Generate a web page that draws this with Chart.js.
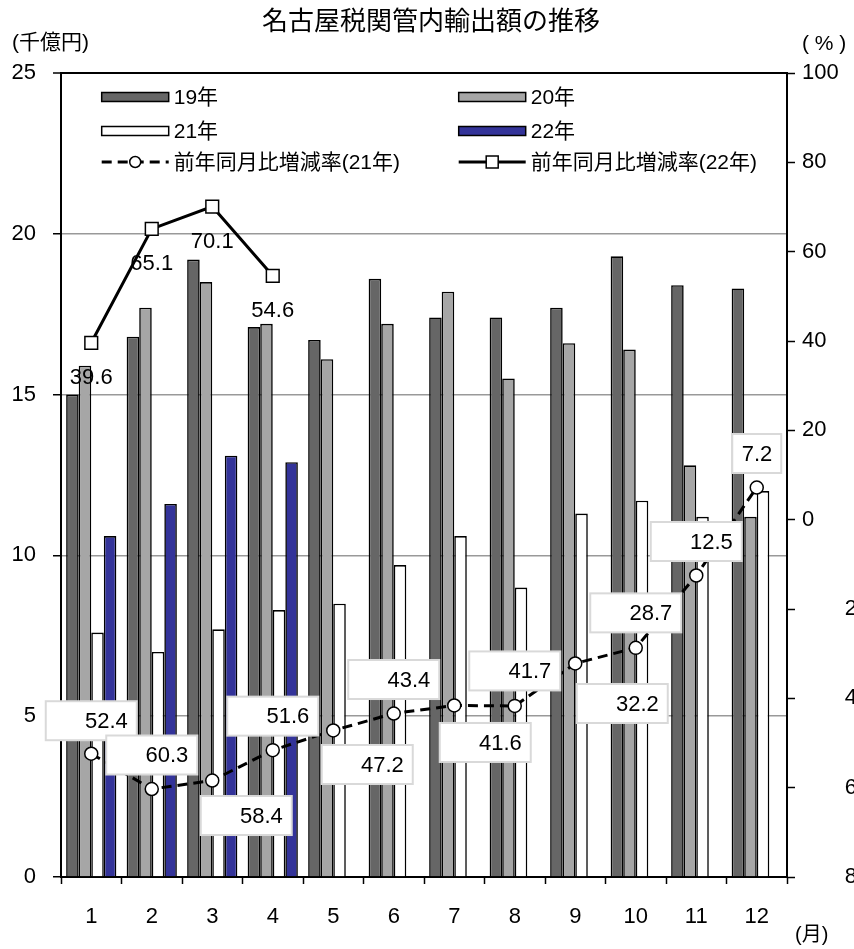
<!DOCTYPE html>
<html><head><meta charset="utf-8">
<script src="https://cdn.jsdelivr.net/npm/chart.js@4/dist/chart.umd.min.js"></script>
<style>html,body{margin:0;padding:0;background:#fff;overflow:hidden}canvas{display:block}</style>
</head><body>
<canvas id="c" width="854" height="949"></canvas>
<script>
// ---- data ----
const months = ['1','2','3','4','5','6','7','8','9','10','11','12'];
const exports19 = [15.0, 16.8, 19.2, 17.1, 16.7, 18.6, 17.4, 17.4, 17.7, 19.3, 18.4, 18.3];
const exports20 = [15.9, 17.7, 18.5, 17.2, 16.1, 17.2, 18.2, 15.5, 16.6, 16.4, 12.8, 11.2];
const exports21 = [7.6, 7.0, 7.7, 8.3, 8.5, 9.7, 10.6, 9.0, 11.3, 11.7, 11.2, 12.0];
const exports22 = [10.6, 11.6, 13.1, 12.9, null, null, null, null, null, null, null, null];
const rate21 = [-52.4, -60.3, -58.4, -51.6, -47.2, -43.4, -41.6, -41.7, -32.2, -28.7, -12.5, 7.2];
const rate22 = [39.6, 65.1, 70.1, 54.6, null, null, null, null, null, null, null, null];
const leftTicks = [0, 5, 10, 15, 20, 25];
const rightTicks = [-80, -60, -40, -20, 0, 20, 40, 60, 80, 100];

// ---- styling (label placement relative to points) ----
const box21Layout = [
  {dx:0, dy:-33, w:91}, {dx:0, dy:-34, w:91}, {dx:34, dy:35, w:91}, {dx:0, dy:-34, w:91},
  {dx:34, dy:34, w:91}, {dx:0, dy:-34, w:91}, {dx:31, dy:37, w:91}, {dx:0, dy:-35, w:91},
  {dx:47, dy:40, w:91}, {dx:0, dy:-35, w:91}, {dx:0, dy:-34, w:91}, {dx:0, dy:-34, w:49}
];
const FONT = "'Liberation Sans', 'Noto Sans CJK JP', sans-serif";
const CJK = "'Noto Sans CJK JP', sans-serif";

const dsRate21 = {type:'line', label:'前年同月比増減率(21年)', data:rate21, yAxisID:'y2',
  borderColor:'#000', borderWidth:3, borderDash:[10,6], tension:0,
  pointStyle:'circle', pointRadius:6.5, pointBackgroundColor:'#fff', pointBorderColor:'#000', pointBorderWidth:1.5, order:0};
const dsRate22 = {type:'line', label:'前年同月比増減率(22年)', data:rate22, yAxisID:'y2',
  borderColor:'#000', borderWidth:3, tension:0,
  pointStyle:'rect', pointRadius:9, pointBackgroundColor:'#fff', pointBorderColor:'#000', pointBorderWidth:1.5, order:0};
const mkBar = (label, data, color) => ({type:'bar', label, data, yAxisID:'y', backgroundColor:color,
  borderColor:'#000', borderWidth:1.6, order:1, categoryPercentage:0.83, barPercentage:1.0});
const dsBars = [mkBar('19年', exports19, '#666666'), mkBar('20年', exports20, '#a6a6a6'),
  mkBar('21年', exports21, '#ffffff'), mkBar('22年', exports22, '#333399')];

const datasets = [dsRate21, dsRate22, ...dsBars];
// legend layout order: [dataset index]
const legendOrder = [[2,3],[4,5],[0,1]];

const labelPlugin = {
  id:'valueLabels',
  afterDatasetsDraw(chart){
    const ctx = chart.ctx;
    ctx.save();
    ctx.font = '22px ' + FONT;
    ctx.textBaseline = 'middle';
    ctx.fillStyle = '#000';
    const m22 = chart.getDatasetMeta(1);
    m22.data.forEach((pt,i)=>{
      if (rate22[i] == null) return;
      ctx.textAlign = 'center';
      ctx.fillText(Math.abs(rate22[i]).toFixed(1), pt.x, pt.y + 35);
    });
    const m21 = chart.getDatasetMeta(0);
    m21.data.forEach((pt,i)=>{
      const b = box21Layout[i];
      const cx = pt.x + b.dx, cy = pt.y + b.dy, w = b.w, h = 39;
      ctx.fillStyle = '#fff';
      ctx.fillRect(cx - w/2, cy - h/2, w, h);
      ctx.strokeStyle = '#d9d9d9';
      ctx.lineWidth = 2;
      ctx.strokeRect(cx - w/2, cy - h/2, w, h);
      ctx.fillStyle = '#000';
      ctx.textAlign = 'right';
      ctx.fillText(Math.abs(rate21[i]).toFixed(1), cx + w/2 - 9, cy + 1);
    });
    ctx.restore();
  },
  afterDraw(chart){
    const ctx = chart.ctx;
    ctx.save();
    ctx.fillStyle = '#000';
    ctx.textBaseline = 'middle';
    // title & units
    ctx.textAlign = 'center';
    ctx.font = '26px ' + CJK;
    ctx.fillText('名古屋税関管内輸出額の推移', 431, 20);
    ctx.font = '21px ' + FONT;
    ctx.textAlign = 'left';
    ctx.fillText('(千億円)', 12, 43);
    ctx.fillText('( % )', 802, 44);
    ctx.font = '20px ' + FONT;
    ctx.fillText('(月)', 795, 935);
    // legend
    const colX = [101.7, 458.7];
    const rowY = [97, 131, 162];
    const sw = 67;
    ctx.font = '21px ' + FONT;
    legendOrder.forEach((row, r)=>{
      row.forEach((di, c)=>{
        const ds = chart.data.datasets[di];
        const x = colX[c], y = rowY[r];
        if (ds.type === 'bar') {
          ctx.fillStyle = ds.backgroundColor;
          ctx.fillRect(x, y - 4.5, sw, 9);
          ctx.strokeStyle = '#000';
          ctx.lineWidth = 1.5;
          ctx.strokeRect(x, y - 4.5, sw, 9);
        } else {
          ctx.strokeStyle = ds.borderColor;
          ctx.lineWidth = ds.borderWidth;
          ctx.setLineDash(ds.borderDash || []);
          ctx.beginPath(); ctx.moveTo(x, y); ctx.lineTo(x + sw, y); ctx.stroke();
          ctx.setLineDash([]);
          ctx.fillStyle = '#fff';
          ctx.strokeStyle = '#000';
          ctx.lineWidth = ds.pointBorderWidth;
          ctx.beginPath();
          if (ds.pointStyle === 'rect') { const s = 6; ctx.rect(x + sw/2 - s, y - s, 2*s, 2*s); }
          else { ctx.arc(x + sw/2, y, 5.5, 0, Math.PI*2); }
          ctx.fill(); ctx.stroke();
        }
        ctx.fillStyle = '#000';
        ctx.textAlign = 'left';
        ctx.fillText(ds.label, x + sw + 5, y + 1);
      });
    });
    ctx.restore();
  }
};

new Chart(document.getElementById('c'), {
  type:'bar',
  data:{labels:months, datasets},
  plugins:[labelPlugin],
  options:{
    responsive:false, animation:false, devicePixelRatio:1,
    layout:{padding:{top:73, left:0, right:0, bottom:0}},
    plugins:{legend:{display:false}, title:{display:false}, tooltip:{enabled:false}},
    scales:{
      x:{
        offset:true,
        grid:{offset:true, drawOnChartArea:false, tickLength:7, tickColor:'#000', tickWidth:1.5},
        border:{color:'#000', width:2},
        ticks:{color:'#000', font:{size:22, family:FONT}, padding:20, maxRotation:0},
        afterFit(s){ s.height = 72; }
      },
      y:{
        position:'left', min:0, max:25,
        afterBuildTicks(s){ s.ticks = leftTicks.map(v=>({value:v})); },
        grid:{
          color:(c)=> c.tick && c.tick.value === 25 ? '#000' : (c.tick && c.tick.value === 0 ? 'rgba(0,0,0,0)' : '#999'),
          lineWidth:(c)=> c.tick && c.tick.value === 25 ? 2 : 1.5,
          tickLength:8, tickColor:'#000', tickWidth:1.5
        },
        border:{color:'#000', width:2},
        ticks:{color:'#000', font:{size:22, family:FONT}, padding:17},
        afterFit(s){ s.width = 61; }
      },
      y2:{
        position:'right', min:-80, max:100,
        afterBuildTicks(s){ s.ticks = rightTicks.map(v=>({value:v})); },
        grid:{drawOnChartArea:false, tickLength:8, tickColor:'#000', tickWidth:1.5},
        border:{color:'#000', width:2},
        ticks:{color:'#000', font:{size:22, family:FONT}, padding:7,
          callback:(v)=> v < 0 ? '       ' + Math.abs(v) : String(v)},
        afterFit(s){ s.width = 67; }
      }
    }
  }
});
</script>
</body></html>
